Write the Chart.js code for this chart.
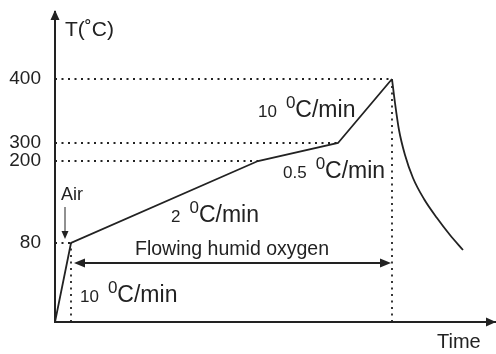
<!DOCTYPE html>
<html>
<head>
<meta charset="utf-8">
<script src="https://cdn.jsdelivr.net/npm/chart.js@4.4.1/dist/chart.umd.min.js"></script>
<style>
  html, body { margin: 0; padding: 0; background: #fff; }
  #profile { display: block; }
</style>
</head>
<body>
<canvas id="profile" width="496" height="354" style="width:496px;height:354px"></canvas>
<script>
// schematic, not to scale: heights and times are in drawing units
const tempLabels = ['80', '200', '300', '400'];
const tempLevels = [79, 161, 179, 243];
const guideEnds = [16, 203, 283, 337];

const profileTime = [0, 16, 203, 283, 337];
const profileLevel = [0, 79, 161, 179, 243];

const coolTime = [337, 340, 344, 350, 358, 369, 382, 395, 408];
const coolLevel = [243, 219, 192, 167, 144, 123, 104, 87, 72];

const rateLabels = ['10', '2', '0.5', '10'];

const ink = '#222';
const font = size => size + 'px "Liberation Sans", Arial, sans-serif';

function pairs(xs, ys) {
  return xs.map((t, i) => ({ x: t, y: ys[i] }));
}

const dotted = {
  borderColor: ink,
  borderWidth: 1.8,
  borderDash: [2, 4.5],
  pointRadius: 0,
  fill: false
};

const datasets = [
  {
    data: pairs(profileTime, profileLevel),
    borderColor: ink,
    borderWidth: 1.8,
    pointRadius: 0,
    tension: 0
  },
  {
    data: pairs(coolTime, coolLevel),
    borderColor: ink,
    borderWidth: 1.8,
    pointRadius: 0,
    cubicInterpolationMode: 'monotone'
  }
];
tempLevels.forEach((lv, i) => {
  datasets.push(Object.assign({ data: [{ x: 0, y: lv }, { x: guideEnds[i], y: lv }] }, dotted));
});
datasets.push(Object.assign({ data: [{ x: profileTime[1], y: 0 }, { x: profileTime[1], y: profileLevel[1] }] }, dotted));
datasets.push(Object.assign({ data: [{ x: profileTime[4], y: 0 }, { x: profileTime[4], y: profileLevel[4] }] }, dotted));

function head(ctx, tx, ty, dir, len, half) {
  ctx.beginPath();
  ctx.moveTo(tx, ty);
  if (dir === 'up') { ctx.lineTo(tx - half, ty + len); ctx.lineTo(tx + half, ty + len); }
  if (dir === 'down') { ctx.lineTo(tx - half, ty - len); ctx.lineTo(tx + half, ty - len); }
  if (dir === 'right') { ctx.lineTo(tx - len, ty - half); ctx.lineTo(tx - len, ty + half); }
  if (dir === 'left') { ctx.lineTo(tx + len, ty - half); ctx.lineTo(tx + len, ty + half); }
  ctx.closePath();
  ctx.fill();
}

function rate(ctx, left, base, num) {
  ctx.textAlign = 'left';
  ctx.textBaseline = 'alphabetic';
  ctx.font = font(17);
  ctx.fillText(num, left, base);
  let cx = left + ctx.measureText(num).width + 9;
  ctx.fillText('0', cx, base - 9);
  cx += ctx.measureText('0').width;
  ctx.font = font(23);
  ctx.fillText('C/min', cx, base);
}

const sketchNotes = {
  id: 'sketchNotes',
  afterDraw(chart) {
    const { ctx, chartArea } = chart;
    const px = v => chart.scales.x.getPixelForValue(v);
    const py = v => chart.scales.y.getPixelForValue(v);
    ctx.save();
    ctx.fillStyle = ink;
    ctx.strokeStyle = ink;

    // axis heads
    head(ctx, px(0), chartArea.top - 2, 'up', 10, 4.5);
    head(ctx, chartArea.right + 1, py(0), 'right', 10, 4.5);

    ctx.textAlign = 'left';
    ctx.textBaseline = 'middle';
    ctx.font = font(21);
    ctx.fillText('T(\u02DAC)', px(10), py(292));
    ctx.font = font(20);
    ctx.fillText('Time', px(382), py(-20));

    // air inlet
    ctx.font = font(18);
    ctx.fillText('Air', px(6), py(127));
    ctx.lineWidth = 1;
    ctx.beginPath();
    ctx.moveTo(px(10), py(115));
    ctx.lineTo(px(10), py(90));
    ctx.stroke();
    head(ctx, px(10), py(83), 'down', 8, 3.5);

    // humid oxygen span
    const fy = py(59);
    ctx.lineWidth = 2;
    ctx.beginPath();
    ctx.moveTo(px(26), fy);
    ctx.lineTo(px(329), fy);
    ctx.stroke();
    head(ctx, px(19), fy, 'left', 11, 4.5);
    head(ctx, px(336), fy, 'right', 11, 4.5);
    ctx.font = font(19.5);
    ctx.fillText('Flowing humid oxygen', px(80), py(72));

    // ramp rates
    rate(ctx, px(25), py(20), rateLabels[0]);
    rate(ctx, px(116), py(100), rateLabels[1]);
    rate(ctx, px(228), py(144), rateLabels[2]);
    rate(ctx, px(203), py(205), rateLabels[3]);

    ctx.restore();
  }
};

new Chart(document.getElementById('profile'), {
  type: 'line',
  data: { datasets: datasets },
  plugins: [sketchNotes],
  options: {
    responsive: false,
    animation: false,
    layout: { padding: { top: 12, right: 1, left: 0, bottom: 0 } },
    plugins: {
      legend: { display: false },
      tooltip: { enabled: false }
    },
    scales: {
      x: {
        type: 'linear',
        min: 0,
        max: 440,
        grid: { display: false, drawTicks: false },
        ticks: { display: false },
        border: { display: true, color: ink, width: 2 },
        afterFit: s => { s.height = 32; s.paddingLeft = 0; s.paddingRight = 0; }
      },
      y: {
        type: 'linear',
        min: 0,
        max: 310,
        grid: { display: false, drawTicks: false },
        border: { display: true, color: ink, width: 2 },
        afterBuildTicks: s => { s.ticks = tempLevels.map(v => ({ value: v })); },
        afterFit: s => { s.width = 55; s.paddingTop = 0; s.paddingBottom = 0; },
        ticks: {
          autoSkip: false,
          padding: 14,
          color: ink,
          font: { family: '"Liberation Sans", Arial, sans-serif', size: 19 },
          callback: (v, i) => tempLabels[i]
        }
      }
    }
  }
});
</script>
</body>
</html>
